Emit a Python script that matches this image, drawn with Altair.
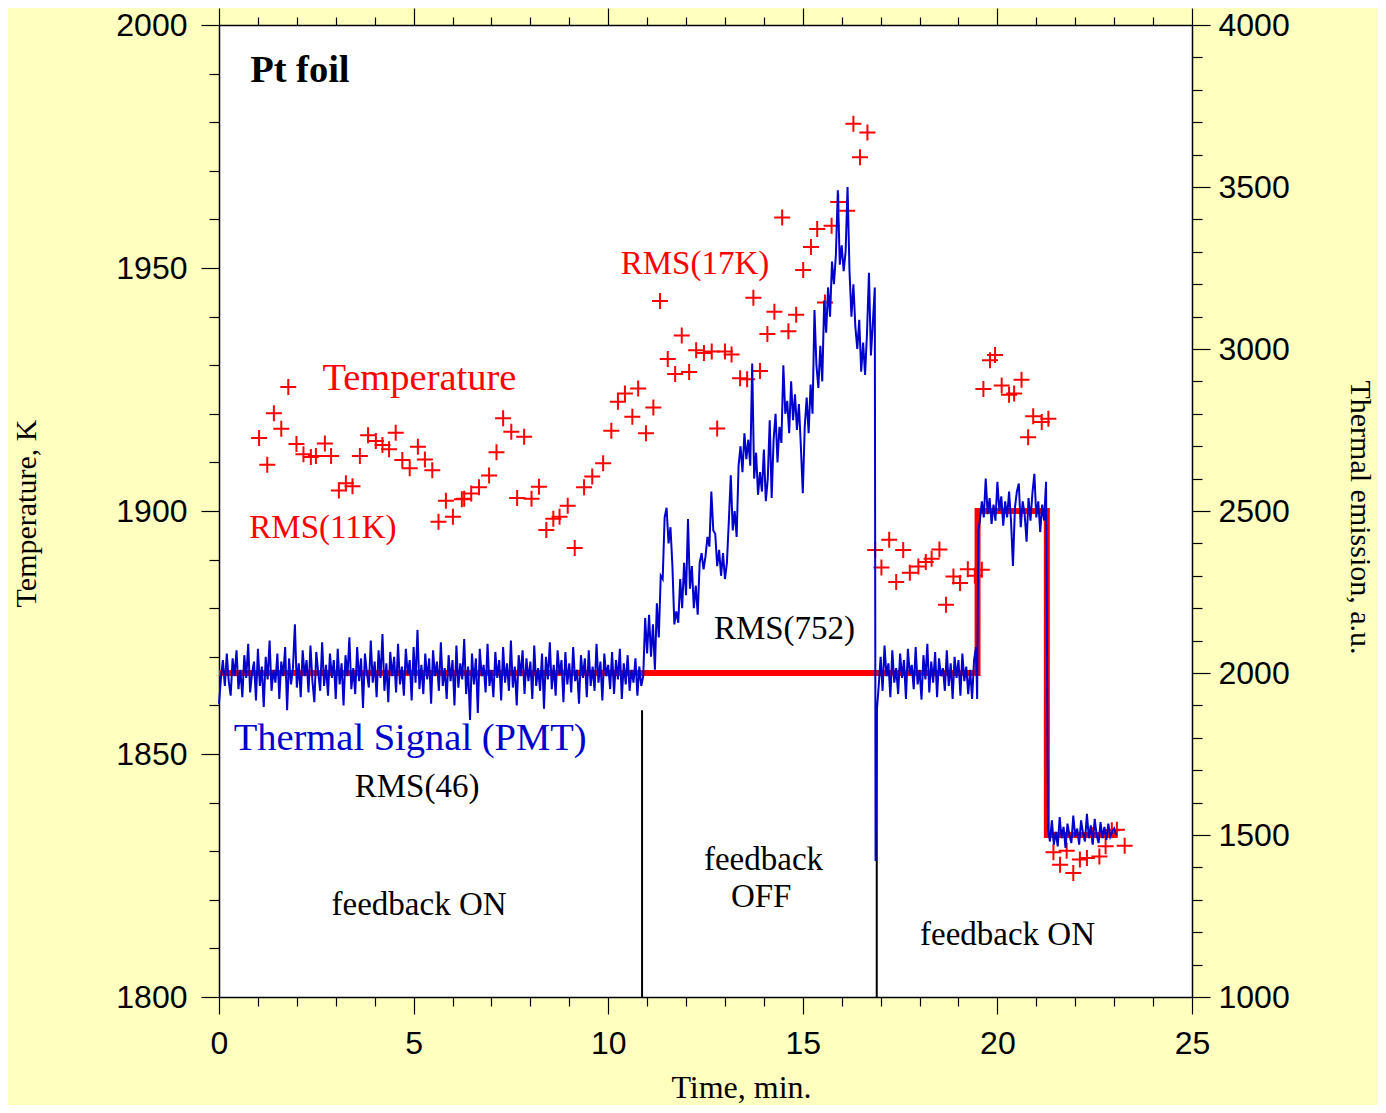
import altair as alt
import pandas as pd
import numpy as np

# ---------------- Temperature crosses (time min, temperature K) ----------------
temp_time = [1.03, 1.24, 1.41, 1.60, 1.78, 1.99, 2.17, 2.36, 2.49, 2.72, 2.88, 3.08, 3.26, 3.43,
             3.62, 3.83, 4.03, 4.20, 4.37, 4.54, 4.71, 4.90, 5.11, 5.29, 5.48, 5.64, 5.83, 6.01,
             6.24, 6.30, 6.48, 6.68, 6.94, 7.13, 7.30, 7.51, 7.84, 7.66, 8.03, 8.22, 8.41, 8.59,
             8.75, 8.96, 9.14, 9.38, 9.59, 9.87, 10.08, 10.25, 10.43, 10.62, 10.77, 10.97, 11.16,
             11.33, 11.53, 11.72, 11.89, 12.08, 12.26, 12.46, 12.66, 12.80, 13.00, 13.17, 13.39,
             13.57, 13.73, 13.90, 14.09, 14.27, 14.47, 14.63, 14.83, 15.01, 15.21, 15.37, 15.57,
             15.74, 15.91, 16.14, 16.30, 16.47, 16.66, 16.86, 17.02, 17.22, 17.40, 17.58, 17.75,
             17.97, 18.16, 18.31, 18.51, 18.68, 18.87, 19.04, 19.24, 19.42, 19.60, 19.64, 19.81,
             19.94, 20.11, 20.30, 20.43, 20.62, 20.79, 20.92, 21.14, 21.31, 21.44, 21.61, 21.78,
             21.95, 22.12, 22.30, 22.44, 22.62, 22.78, 22.94, 23.07, 23.27]
temp_K = [1915.0, 1909.5, 1920.1, 1916.9, 1925.5, 1913.8, 1911.7, 1911.1, 1911.3, 1913.9, 1911.3,
          1904.2, 1905.7, 1905.1, 1911.3, 1915.6, 1914.4, 1913.6, 1912.7, 1916.1, 1910.5, 1908.8,
          1913.2, 1910.6, 1908.4, 1897.8, 1902.1, 1898.8, 1902.4, 1902.5, 1903.6, 1904.9, 1907.3,
          1912.1, 1919.1, 1916.3, 1915.3, 1902.7, 1902.5, 1905.0, 1896.1, 1898.4, 1898.8, 1901.1,
          1892.4, 1904.9, 1907.1, 1909.8, 1916.5, 1922.5, 1924.2, 1919.4, 1925.2, 1916.0, 1921.3,
          1943.2, 1931.3, 1928.2, 1936.1, 1928.6, 1933.1, 1932.5, 1932.8, 1917.0, 1932.8, 1932.2,
          1927.3, 1927.1, 1943.9, 1928.8, 1936.4, 1941.0, 1960.4, 1937.0, 1940.4, 1949.6, 1954.3,
          1958.0, 1942.9, 1958.7, 1963.6, 1961.8, 1979.7, 1972.8, 1977.9, 1892.0, 1888.4, 1894.1,
          1885.4, 1892.0, 1887.3, 1888.6, 1889.5, 1890.2, 1892.1, 1880.7, 1886.5, 1885.2, 1888.0,
          1886.7, 1887.9, 1925.1, 1931.0, 1932.1, 1925.8, 1923.9, 1924.2, 1927.0, 1915.2, 1919.5,
          1918.3, 1919.0, 1829.8, 1827.2, 1830.1, 1825.5, 1828.3, 1828.6, 1833.3, 1828.9, 1831.0,
          1834.3, 1834.4, 1831.1]

# ---------------- Thermal signal (PMT), sampled every 0.05 min ----------------
STEP = 0.05
seg1_start = 0.0   # feedback ON, around 2000
seg1 = [1905, 1985, 2040, 1960, 2060, 1975, 1930, 2045, 1990, 2070,
        1950, 2010, 1925, 2055, 1985, 2090, 1940, 2000, 2035, 1915,
        2075, 1960, 2020, 1895, 2050, 1980, 2100, 1945, 2010, 1970,
        2060, 1920, 2035, 1990, 2080, 1885, 2045, 1965, 2015, 2150,
        1955, 2030, 1925, 2070, 1990, 2040, 1940, 2085, 1975, 1910,
        2065, 2000, 1945, 2095, 1960, 2025, 1930, 2060, 1985, 2040,
        1920, 2075, 1965, 2030, 1900, 2055, 1990, 2110, 1950, 2015,
        1935, 2080, 1975, 2045, 1892, 2060, 2000, 1955, 2100, 1970,
        2035, 1925, 2070, 1985, 2120, 1945, 2030, 1910, 2065, 1990,
        2050, 1940, 2090, 1965, 2020, 1930, 2075, 1995, 2040, 1915,
        2080, 1970, 2133, 1950, 2025, 1935, 2060, 1980, 2045, 1905,
        2070, 1990, 2035, 1945, 2095, 1960, 2015, 1920, 2055, 1975,
        2040, 1900, 2085, 1955, 2030, 1980, 2105, 1935, 2020, 1855,
        2060, 1965, 2045, 1877, 2075, 1990, 2025, 1940, 2090, 1960,
        2010, 1925, 2065, 1985, 2040, 1915, 2080, 1970, 2030, 1945,
        2100, 1955, 2020, 1900, 2055, 1990, 2070, 1935, 2045, 1975,
        2035, 1920, 2085, 1960, 2015, 1945, 2060, 1890, 2050, 1980,
        2095, 1950, 2025, 1930, 2070, 1995, 2040, 1910, 2065, 1965,
        2030, 1940, 2080, 1975, 2010, 1905, 2055, 1985, 2045, 1925,
        2070, 1960, 2020, 1945, 2090, 1970, 2035, 1915, 2060, 1990,
        2025, 1950, 2065, 1935, 2040, 1980, 2075, 1920, 2030, 1965,
        2055, 1945, 2010, 1970, 2045, 1930, 2020, 1960, 1990]
seg2_start = 10.95  # feedback OFF, rising
seg2 = [2170, 2060, 2180, 2050, 2150, 2010, 2215, 2110, 2300, 2290,
        2480, 2510, 2400, 2450, 2330, 2150, 2190, 2155, 2290, 2200,
        2340, 2240, 2475, 2260, 2330, 2200, 2270, 2180, 2340, 2370,
        2320, 2360, 2420, 2390, 2560, 2440, 2430, 2330, 2380, 2300,
        2370, 2290, 2340, 2470, 2610, 2440, 2500, 2420, 2640, 2700,
        2620, 2740, 2660, 2720, 2640, 2955, 2600, 2680, 2550, 2620,
        2560, 2690, 2530, 2600, 2780, 2540, 2720, 2800, 2650, 2760,
        2710, 2950, 2800, 2840, 2740, 2900, 2780, 2860, 2750, 2830,
        2700, 2555, 2760, 2850, 2740, 2890, 2800, 3120, 2950, 2880,
        3010, 2900, 3150, 3050, 3190, 3100, 3270, 3200, 3290, 3490,
        3260, 3320, 3240, 3300, 3500, 3240, 3100, 3200, 3070, 3000,
        3090, 2930, 3020, 2920, 3050, 3235, 2980, 3080, 3190]
drop_time = [16.87, 16.90]
drop_val = [1420, 1880]
seg3_start = 16.95  # feedback ON again, around 2000
seg3 = [1960, 2050, 1945, 2085, 1990, 2030, 1925, 2070, 1970, 2015,
        1935, 2060, 1985, 2040, 1920, 2075, 1995, 2025, 1950, 2080,
        1965, 2010, 1918, 2055, 1980, 2090, 1940, 2035, 1970, 2065,
        1925, 2045, 1990, 2015, 1945, 2070, 1960, 2030, 1920, 2050,
        1985, 2040, 1930, 2060, 1975, 2020, 1935, 2010, 1920, 2040,
        2080]
jump_time = [19.48, 19.51]
jump_val = [1920, 2440]
seg4_start = 19.55  # set point 2500
seg4 = [2470, 2530, 2480, 2600, 2490, 2540, 2460, 2520, 2470, 2590,
        2500, 2545, 2455, 2530, 2480, 2560, 2470, 2330, 2510, 2560,
        2585, 2450, 2530, 2490, 2405, 2540, 2470, 2555, 2615, 2480,
        2530, 2435, 2520, 2470, 2590]
seg5_start = 21.30  # set point 1500
seg5 = [1520, 1480, 1545, 1470, 1510, 1465, 1555, 1490, 1525, 1460,
        1535, 1500, 1475, 1560, 1495, 1520, 1470, 1545, 1505, 1480,
        1565, 1490, 1530, 1470, 1550, 1500, 1475, 1540, 1490, 1525,
        1485, 1535, 1495, 1510, 1520, 1500]

# ---------------- Set point (red step) ----------------
set_time = [0.0, 19.49, 21.27, 23.07]
set_val = [2000, 2500, 1500, 1500]

# ---------------- Feedback switch markers ----------------
switch_time = [10.87, 16.90]
switch_top = [1859, 1859]

# ---------------- Annotations ----------------
ann_text = ["Temperature", "RMS(11K)", "RMS(17K)", "Thermal Signal (PMT)", "RMS(46)",
            "RMS(752)", "feedback ON", "feedback", "OFF", "feedback ON"]
ann_time = [5.15, 2.67, 12.23, 4.91, 5.09, 14.53, 5.14, 13.99, 13.93, 20.26]
ann_temp = [1924.9, 1894.4, 1948.8, 1850.8, 1841.2, 1873.7, 1816.9, 1826.1, 1818.5, 1810.7]
ann_color = ["#FF0000", "#FF0000", "#FF0000", "#0000CD", "black", "black", "black", "black",
             "black", "black"]
ann_size = [38.5, 33, 33, 38.5, 33, 33, 33, 33, 33, 33]

title_text = ["Pt foil"]
title_time = [0.80]
title_temp = [1988.3]


def seg_frame(start, vals):
    t = np.round(start + STEP * np.arange(len(vals)), 3)
    return pd.DataFrame({"t": t, "E": vals})


blue = pd.concat([
    seg_frame(seg1_start, seg1),
    seg_frame(seg2_start, seg2),
    pd.DataFrame({"t": drop_time, "E": drop_val}),
    seg_frame(seg3_start, seg3),
    pd.DataFrame({"t": jump_time, "E": jump_val}),
    seg_frame(seg4_start, seg4),
    seg_frame(seg5_start, seg5),
], ignore_index=True)
blue["o"] = np.arange(len(blue))

temp_df = pd.DataFrame({"t": temp_time, "T": temp_K})
set_df = pd.DataFrame({"t": set_time, "E": set_val})
rule_df = pd.DataFrame({"t": switch_time, "T": switch_top, "T0": [1800, 1800]})
ann_df = pd.DataFrame({"t": ann_time, "T": ann_temp, "label": ann_text, "c": ann_color,
                       "s": ann_size})
title_df = pd.DataFrame({"t": title_time, "T": title_temp, "label": title_text})

SANS = "Liberation Sans"
SERIF = "Liberation Serif"

x_dom = alt.Scale(domain=[0, 25], nice=False, zero=False)
t_dom = alt.Scale(domain=[1800, 2000], nice=False, zero=False)
e_dom = alt.Scale(domain=[1000, 4000], nice=False, zero=False)

common_axis = dict(domainColor="black", domainWidth=1.5, tickColor="black", tickWidth=1.2,
                   labelColor="black", labelFont=SANS, labelFontSize=32, grid=False,
                   titleFont=SERIF, titleFontSize=30, titleFontWeight="normal",
                   titleColor="black", labelOverlap=False, labelFlush=False, format="d")

x_bottom_axis = alt.Axis(
    values=list(range(0, 26)), orient="bottom",
    labelExpr="datum.value % 5 === 0 ? datum.label : ''",
    tickSize={"condition": {"test": "datum.value % 5 === 0", "value": 17}, "value": 9},
    labelPadding=14, title="Time, min.", titleX=522, titleY=100, titleAlign="center",
    titleBaseline="alphabetic", titleFontSize=32, titleAnchor=None,
    **{k: v for k, v in common_axis.items() if k != "titleFontSize"})
x_top_axis = alt.Axis(
    values=list(range(0, 26)), orient="top", labels=False, title=None,
    tickSize={"condition": {"test": "datum.value % 5 === 0", "value": 17}, "value": 8},
    **common_axis)
y_left_axis = alt.Axis(
    values=list(range(1800, 2001, 10)), orient="left",
    labelExpr="datum.value % 50 === 0 ? datum.label : ''",
    tickSize={"condition": {"test": "datum.value % 50 === 0", "value": 18}, "value": 10},
    labelPadding=14, title="Temperature, K", titleAngle=-90, titleX=-184, titleY=488,
    titleAlign="center", titleBaseline="alphabetic", **common_axis)
y_right_axis = alt.Axis(
    values=list(range(1000, 4001, 100)), orient="right",
    labelExpr="datum.value % 500 === 0 ? datum.label : ''",
    tickSize={"condition": {"test": "datum.value % 500 === 0", "value": 18}, "value": 10},
    labelPadding=8, title="Thermal emission, a.u.", titleAngle=90, titleX=158, titleY=492,
    titleAlign="center", titleBaseline="alphabetic", **common_axis)

X_T = alt.X("t:Q", scale=x_dom, axis=x_bottom_axis)
Y_T = alt.Y("T:Q", scale=t_dom, axis=y_left_axis)
X_E = alt.X("t:Q", scale=x_dom, axis=x_top_axis)
Y_E = alt.Y("E:Q", scale=e_dom, axis=y_right_axis)

# --- temperature group (left axis, bottom axis)
rules = alt.Chart(rule_df).mark_rule(color="black", strokeWidth=2).encode(
    x=X_T, y=Y_T, y2="T0:Q")

pts = alt.Chart(temp_df).mark_point(
    shape="M-1,0H1M0,-1V1", size=256, strokeWidth=2, color="#FF0000", filled=False, opacity=1
).encode(x=X_T, y=Y_T)

ann = alt.Chart(ann_df).mark_text(font=SERIF, baseline="alphabetic", align="center").encode(
    x=X_T, y=Y_T, text="label:N",
    color=alt.Color("c:N", scale=None), size=alt.Size("s:Q", scale=None))

ttl = alt.Chart(title_df).mark_text(font=SERIF, fontWeight="bold", fontSize=38.5,
                                    baseline="alphabetic", align="left", color="black").encode(
    x=X_T, y=Y_T, text="label:N")

temp_group = alt.layer(rules, pts, ann, ttl)

# --- emission group (right axis, top axis)
step_line = alt.Chart(set_df).mark_line(interpolate="step-after", color="#FF0000",
                                        strokeWidth=6).encode(x=X_E, y=Y_E)

sig_line = alt.Chart(blue).mark_line(color="#0000CD", strokeWidth=2).encode(
    x=X_E, y=Y_E, order="o:Q")

emis_group = alt.layer(step_line, sig_line)

chart = alt.layer(temp_group, emis_group).resolve_scale(
    x="independent", y="independent").resolve_axis(x="independent", y="independent").properties(
    width=973, height=972,
    autosize=alt.AutoSizeParams(type="none"),
    padding={"left": 211, "top": 17, "right": 186, "bottom": 108},
    background="#FFFFC0",
).configure_view(fill="white", stroke=None).configure_axis(labelOverlap=False)

chart.save("out.html", embed_options={"renderer": "svg", "actions": False})
